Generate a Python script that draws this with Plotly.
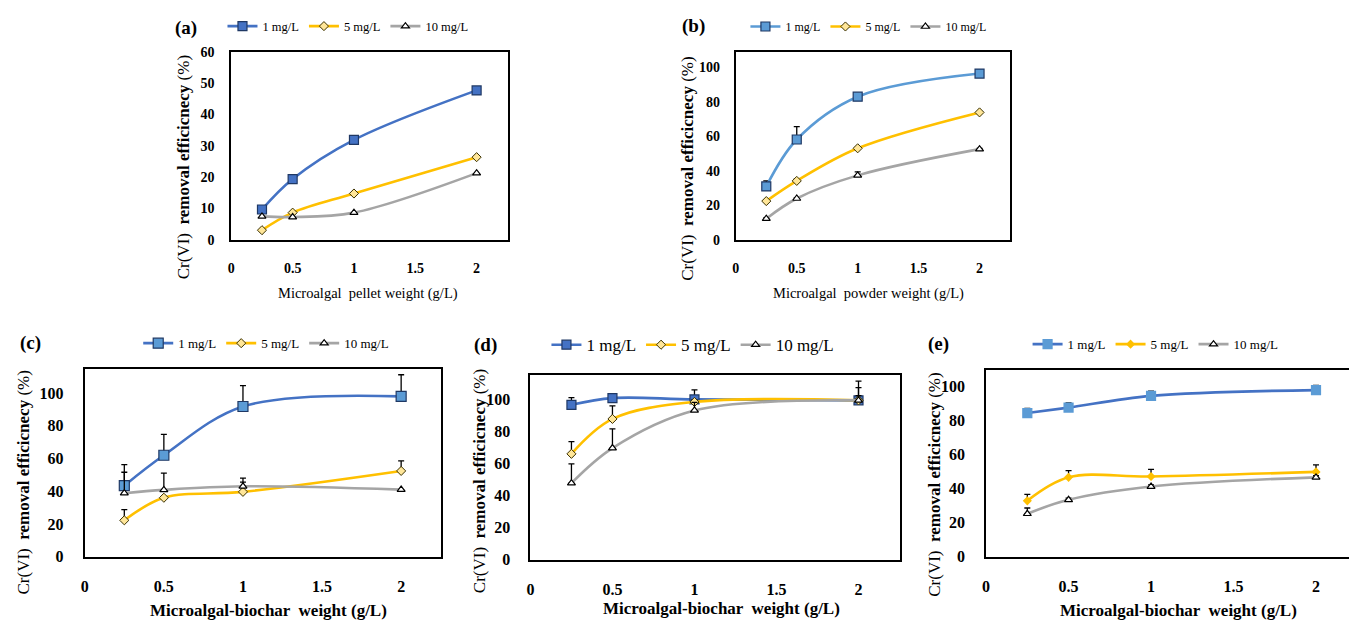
import plotly.graph_objects as go

# ---------------- data ----------------
weights = [0.25, 0.5, 1, 2]
series_names = ["1 mg/L", "5 mg/L", "10 mg/L"]
x_ticks = [0, 0.5, 1, 1.5, 2]
x_ticklabels = ["0", "0.5", "1", "1.5", "2"]

# (a) microalgal pellet
a_1 = [9.7, 19.4, 31.9, 47.7]
a_5 = [3.1, 8.7, 14.8, 26.4]
a_10 = [7.5, 7.3, 8.7, 21.3]

# (b) microalgal powder
b_1 = [31.0, 58.2, 83.0, 96.4]
b_5 = [22.5, 34.2, 53.1, 73.9]
b_10 = [12.3, 24.0, 37.4, 52.6]
b_1_err = [3.2, 7.5, 0.8, 0.8]
b_5_err = [0.5, 1.2, 0.5, 0.5]
b_10_err = [0.5, 0.5, 2.0, 0.5]

# (c) microalgal biochar
c_1 = [43.4, 62.0, 91.8, 98.0]
c_5 = [22.2, 36.0, 39.6, 52.4]
c_10 = [38.8, 40.8, 43.0, 41.0]
c_1_err = [12.8, 12.8, 12.8, 13.2]
c_5_err = [6.6, 0.0, 6.0, 6.2]
c_10_err = [12.8, 10.2, 5.0, 0.0]

# (d) microalgal biochar
d_1 = [96.6, 100.8, 100.0, 99.4]
d_5 = [66.0, 87.8, 98.4, 99.4]
d_10 = [47.7, 69.6, 93.1, 99.4]
d_1_err = [4.5, 0.0, 6.0, 12.0]
d_5_err = [7.6, 8.2, 1.5, 8.0]
d_10_err = [12.1, 12.0, 5.0, 3.0]

# (e) microalgal biochar
e_1 = [84.4, 87.6, 94.5, 97.9]
e_5 = [32.8, 46.6, 47.1, 49.8]
e_10 = [25.2, 33.4, 41.2, 46.6]
e_1_err = [2.8, 2.8, 2.8, 2.8]
e_5_err = [3.8, 4.0, 4.2, 4.2]
e_10_err = [3.4, 1.0, 1.0, 1.0]

panel_letters = ["(a)", "(b)", "(c)", "(d)", "(e)"]
x_titles = ["Microalgal  pellet weight (g/L)",
            "Microalgal  powder weight (g/L)",
            "Microalgal-biochar  weight (g/L)",
            "Microalgal-biochar  weight (g/L)",
            "Microalgal-biochar  weight (g/L)"]
y_title = "Cr(VI)\u00a0\u00a0<b>removal efficicnecy</b> (%)"

# ---------------- styling / layout ----------------
W, H = 1349, 628
SERIF = "Liberation Serif"
BLUE = "#4472C4"
LBLUE = "#5B9BD5"
YEL = "#FFC000"
GRAY = "#A5A5A5"


def px(x):
    return x / W


def py(y):
    return 1 - y / H


# panel boxes in pixels: left, right, top, bottom
boxes = [(228, 506, 46, 239), (734, 1009, 46, 239),
         (81, 438, 371, 564), (528, 899, 378, 567), (985, 1349, 372, 564)]
xmax = [2.26, 2.25, 2.25, 2.255, 2.2]
ymax = [60, 109, 115, 115, 110]
ydt = [10, 20, 20, 20, 20]
tick_size = [14, 14, 16, 16, 16]
ystand = [12, 11, 16, 15, 16]
legend_pos = [(345, 20, 12.5), (867, 20, 12), (263, 345, 13), (691, 347, 17), (1155, 346, 13)]
letter_pos = [(183, 22), (692, 20), (27, 345), (483, 347), (937, 346)]
xtitle_pos = [(365, 294, 14.5), (867, 294, 14.5), (265, 619, 17), (720, 617, 17), (1178, 619, 17)]
ytitle_pos = [(180, 164), (686, 166), (20, 488), (477, 487), (933, 490)]

panels = [
    (a_1, a_5, a_10, None, None, None),
    (b_1, b_5, b_10, b_1_err, b_5_err, b_10_err),
    (c_1, c_5, c_10, c_1_err, c_5_err, c_10_err),
    (d_1, d_5, d_10, d_1_err, d_5_err, d_10_err),
    (e_1, e_5, e_10, e_1_err, e_5_err, e_10_err),
]

blue_line = [BLUE, LBLUE, BLUE, BLUE, BLUE]
sq_fill = [BLUE, LBLUE, LBLUE, BLUE, LBLUE]
sq_border = ["#1F3864", "#1F3864", "#1F3864", "#1F3864", LBLUE]
sq_size = [9, 9, 10, 9, 9]

fig = go.Figure()


def err(e):
    if e is None:
        return None
    return dict(type="data", symmetric=False, array=e, arrayminus=[0] * len(e),
                color="black", thickness=1.3, width=3)


for i, (s1, s5, s10, e1, e5, e10) in enumerate(panels):
    xa = "x" if i == 0 else f"x{i+1}"
    ya = "y" if i == 0 else f"y{i+1}"
    lg = "legend" if i == 0 else f"legend{i+1}"
    # 10 mg/L drawn first (bottom), then 5, then 1
    fig.add_trace(go.Scatter(
        x=weights, y=s1, name=series_names[0], mode="lines+markers",
        line=dict(color=blue_line[i], width=2.6, shape="spline", smoothing=1),
        marker=dict(symbol="square", size=sq_size[i], color=sq_fill[i],
                    line=dict(color=sq_border[i], width=1.2)),
        error_y=err(e1), xaxis=xa, yaxis=ya, legend=lg))
    if i == 4:
        m5 = dict(symbol="diamond", size=7, color=YEL, line=dict(color=YEL, width=0))
    else:
        m5 = dict(symbol="diamond", size=7, color="#FFE699", line=dict(color="#3A3000", width=1))
    fig.add_trace(go.Scatter(
        x=weights, y=s5, name=series_names[1], mode="lines+markers",
        line=dict(color=YEL, width=2.6, shape="spline", smoothing=1),
        marker=m5, error_y=err(e5), xaxis=xa, yaxis=ya, legend=lg))
    fig.add_trace(go.Scatter(
        x=weights, y=s10, name=series_names[2], mode="lines+markers",
        line=dict(color=GRAY, width=2.6, shape="spline", smoothing=1),
        marker=dict(symbol="triangle-up", size=7, color="white",
                    line=dict(color="black", width=1.2)),
        error_y=err(e10), xaxis=xa, yaxis=ya, legend=lg))

layout = dict(width=W, height=H, margin=dict(l=0, r=0, t=0, b=0),
              paper_bgcolor="white", plot_bgcolor="white", showlegend=True,
              font=dict(family=SERIF, color="black"))

annotations = []
for i in range(5):
    l, r, t, b = boxes[i]
    xk = "xaxis" if i == 0 else f"xaxis{i+1}"
    yk = "yaxis" if i == 0 else f"yaxis{i+1}"
    ya = "y" if i == 0 else f"y{i+1}"
    xa = "x" if i == 0 else f"x{i+1}"
    layout[xk] = dict(domain=[px(l), min(px(r), 1)], range=[0, xmax[i]], anchor=ya,
                      tickvals=x_ticks, ticktext=x_ticklabels, ticks="",
                      showgrid=False, zeroline=False, showline=True,
                      linecolor="black", linewidth=2, mirror=True,
                      ticklabelstandoff=14,
                      tickfont=dict(family=SERIF, size=tick_size[i], weight="bold", color="black"))
    layout[yk] = dict(domain=[py(b), py(t)], range=[0, ymax[i]], anchor=xa,
                      dtick=ydt[i], tick0=0, ticks="",
                      showgrid=False, zeroline=False, showline=True,
                      linecolor="black", linewidth=2, mirror=(i != 4),
                      ticklabelstandoff=ystand[i],
                      tickfont=dict(family=SERIF, size=tick_size[i], weight="bold", color="black"))
    lk = "legend" if i == 0 else f"legend{i+1}"
    lx, ly, lfs = legend_pos[i]
    layout[lk] = dict(x=px(lx), y=py(ly), xanchor="center", yanchor="middle",
                      orientation="h", bgcolor="rgba(0,0,0,0)", itemwidth=30,
                      font=dict(family=SERIF, size=lfs, color="black"))
    # panel letter
    annotations.append(dict(text=f"<b>{panel_letters[i]}</b>", x=px(letter_pos[i][0]),
                            y=py(letter_pos[i][1]), xref="paper", yref="paper",
                            xanchor="center", yanchor="middle", showarrow=False,
                            font=dict(family=SERIF, size=19, color="black")))
    # x title
    tx, ty, tfs = xtitle_pos[i]
    annotations.append(dict(text=x_titles[i] if i < 2 else f"<b>{x_titles[i]}</b>",
                            x=px(tx), y=py(ty), xref="paper", yref="paper",
                            xanchor="center", yanchor="middle", showarrow=False,
                            font=dict(family=SERIF, size=tfs, color="black")))
    # y title
    yx, yy = ytitle_pos[i]
    annotations.append(dict(text=y_title, x=px(yx), y=py(yy), xref="paper", yref="paper",
                            xanchor="center", yanchor="middle", showarrow=False, textangle=-90,
                            font=dict(family=SERIF, size=17, color="black")))

layout["annotations"] = annotations
fig.update_layout(**layout)
fig.write_html("out.html")
